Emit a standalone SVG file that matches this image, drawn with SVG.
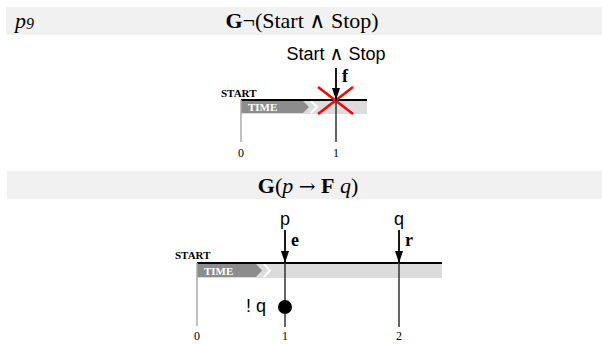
<svg xmlns="http://www.w3.org/2000/svg" width="602" height="344" viewBox="0 0 602 344">
<style>
.banner{fill:#f1f1f1}
.title{font-family:"Liberation Serif",serif;font-size:22px;fill:#000}
.lbl{font-family:"Liberation Sans",Arial,sans-serif;font-size:18px;fill:#000}
.wedge{font-family:"DejaVu Sans Light","DejaVu Sans",sans-serif;font-weight:normal}
.bl{font-family:"Liberation Serif",serif;font-size:18px;font-weight:bold;fill:#000}
.start{font-family:"Liberation Serif",serif;font-size:11px;font-weight:bold;fill:#000}
.time{font-family:"Liberation Serif",serif;font-size:11px;font-weight:bold;fill:#fff}
.num{font-family:"Liberation Serif",serif;font-size:12px;fill:#000;text-anchor:middle}
.axis{stroke:#000;stroke-width:2}
.band{fill:#dcdcdc}
.tarrow{fill:#8c8c8c}
.origin{stroke:#aaa;stroke-width:1.5}
.tick{stroke:#333;stroke-width:1.5}
</style>
<defs>
<marker id="ah" viewBox="0 0 12 8" refX="12" refY="4" markerWidth="12" markerHeight="8" markerUnits="userSpaceOnUse" orient="auto">
<path d="M0,0 L12,4 L0,8 z" fill="#000"/>
</marker>
</defs>

<g id="banner1">
<rect class="banner" x="6" y="7" width="596" height="28"/>
<text class="title" x="15" y="28" font-style="italic" font-size="23">p<tspan font-size="16" dy="1">9</tspan></text>
<text class="title" x="302" y="28" text-anchor="middle"><tspan font-weight="bold">G</tspan>¬(Start <tspan class="wedge" font-size="22">∧</tspan> Stop)</text>
</g>

<g id="timeline1">
<rect class="band" x="241" y="100" width="126" height="14"/>
<path class="tarrow" d="M241,101 H303 L309,107 L303,113 H241 z"/>
<path d="M311,101 L317,107 L311,113" fill="none" stroke="#fff" stroke-width="2"/>
<line class="axis" x1="241" y1="100" x2="367" y2="100"/>
<text class="start" x="221" y="97">START</text>
<text class="time" x="248" y="111">TIME</text>
<line class="origin" x1="241" y1="100" x2="241" y2="142"/>
<text class="num" x="241" y="157">0</text>
<text class="num" x="336" y="157">1</text>
</g>

<g id="event1">
<text class="lbl" x="336" y="60" text-anchor="middle">Start <tspan class="wedge" font-size="19">∧</tspan> Stop</text>
<text class="bl" x="342" y="82">f</text>
<line x1="318" y1="87" x2="353" y2="114" stroke="#f00" stroke-width="2.5"/>
<line x1="353" y1="87" x2="318" y2="114" stroke="#f00" stroke-width="2.5"/>
</g>

<g id="banner2">
<rect class="banner" x="7" y="171" width="595" height="28"/>
<text class="title" x="308" y="193" text-anchor="middle"><tspan font-weight="bold">G</tspan>(<tspan font-style="italic">p</tspan> <tspan font-family="DejaVu Serif" font-size="20">→</tspan> <tspan font-weight="bold">F</tspan> <tspan font-style="italic">q</tspan>)</text>
</g>

<g id="timeline2">
<rect class="band" x="197" y="263" width="245" height="15"/>
<path class="tarrow" d="M197,264 H256 L262,270.5 L256,277 H197 z"/>
<path d="M264,264 L270,270.5 L264,277" fill="none" stroke="#fff" stroke-width="2"/>
<line class="axis" x1="197" y1="263" x2="442" y2="263"/>
<text class="start" x="175" y="259">START</text>
<text class="time" x="204" y="275">TIME</text>
<line class="origin" x1="197" y1="263" x2="197" y2="326"/>
<text class="num" x="197" y="340">0</text>
<text class="num" x="285" y="340">1</text>
<text class="num" x="399" y="340">2</text>
</g>

<g id="event-p">
<text class="lbl" x="285" y="225" text-anchor="middle">p</text>
<text class="bl" x="291" y="246">e</text>
<text class="lbl" x="246" y="312">! q</text>
</g>
<g id="event-q">
<text class="lbl" x="399" y="225" text-anchor="middle">q</text>
<text class="bl" x="405" y="246">r</text>
</g>

<g id="connectors">
<line class="tick" x1="336" y1="68" x2="336" y2="142"/>
<line x1="336" y1="68" x2="336" y2="100" stroke="#000" stroke-width="1.5" marker-end="url(#ah)"/>
<line class="tick" x1="285" y1="230" x2="285" y2="327"/>
<line x1="285" y1="230" x2="285" y2="263" stroke="#000" stroke-width="1.5" marker-end="url(#ah)"/>
<circle cx="285" cy="307" r="7" fill="#000"/>
<line class="tick" x1="399" y1="230" x2="399" y2="327"/>
<line x1="399" y1="230" x2="399" y2="263" stroke="#000" stroke-width="1.5" marker-end="url(#ah)"/>
</g>
</svg>
